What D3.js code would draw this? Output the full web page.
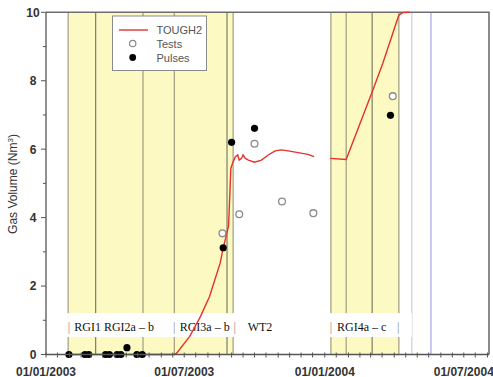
<!DOCTYPE html>
<html>
<head>
<meta charset="utf-8">
<script src="https://cdn.jsdelivr.net/npm/d3@7"></script>
<style>
	body { margin: 0; background: #fff; }
	svg { display: block; font-family: Arial, "Liberation Sans", sans-serif; }
</style>
</head>
<body>
<svg id="chart" width="493" height="377"></svg>
<script>
// TOUGH2 simulated gas volume (null = gap in the curve)
const tough2Dates = ["2003-01-30", "2003-06-18", "2003-06-21", "2003-07-08", "2003-07-22",
	"2003-08-03", "2003-08-17", "2003-08-21", "2003-08-28", "2003-08-30", "2003-08-31",
	"2003-09-03", "2003-09-06", "2003-09-09", "2003-09-11", "2003-09-14", "2003-09-16",
	"2003-09-19", "2003-09-23", "2003-10-01", "2003-10-10", "2003-10-19", "2003-10-28",
	"2003-11-05", "2003-11-14", "2003-11-27", "2003-12-10", "2003-12-18", "2003-12-28",
	"2004-01-08", "2004-01-29", "2004-03-04", "2004-03-17", "2004-04-07", "2004-04-12",
	"2004-04-21"];
const tough2Values = [0, 0, 0.04, 0.52, 1.10,
	1.69, 2.67, 3.11, 3.75, 4.86, 5.44,
	5.63, 5.78, 5.83, 5.68, 5.73, 5.83,
	5.73, 5.68, 5.62, 5.68, 5.83, 5.95,
	5.98, 5.95, 5.90, 5.85, 5.78, null,
	5.73, 5.70, 7.73, 8.51, 9.92, 9.99,
	10.0];

// measured gas volume, tests (open circles)
const testDates = ["2003-08-20", "2003-09-11", "2003-10-01", "2003-11-06", "2003-12-17", "2004-03-30"];
const testValues = [3.54, 4.10, 6.16, 4.47, 4.13, 7.55];

// measured gas volume, pulses (filled dots)
const pulseDates = ["2003-01-31", "2003-02-21", "2003-02-26", "2003-03-20", "2003-03-25",
	"2003-04-04", "2003-04-09", "2003-04-17", "2003-04-30", "2003-05-07",
	"2003-08-21", "2003-09-01", "2003-10-01", "2004-03-27"];
const pulseValues = [0, 0, 0, 0, 0,
	0, 0, 0.2, 0, 0,
	3.12, 6.2, 6.61, 6.99];

// test phases (yellow) and their boundaries
const phaseStarts = ["2003-01-30", "2004-01-09"];
const phaseEnds = ["2003-09-03", "2004-04-07"];
const phaseLines = ["2003-01-30", "2003-03-07", "2003-05-08", "2003-06-18", "2003-08-26",
	"2003-09-03", "2004-01-09", "2004-01-29", "2004-03-03", "2004-04-07"];
const darkLines = ["2003-03-07", "2003-08-26", "2004-03-03"];
const endLine = "2004-04-24";
const blueLine = "2004-05-19";

// phase labels
const phaseNames = ["RGI1 RGI2a – b", "RGI3a – b", "WT2", "RGI4a – c"];
const phaseNameDates = ["2003-02-07", "2003-06-25", "2003-09-22", "2004-01-17"];
const pipeDates = ["2003-01-31", "2003-06-18", "2003-09-05", "2004-01-09", "2004-04-06"];

// axes
const xDomain = ["2003-01-01", "2004-08-03"];
const xTickLabels = ["01/01/2003", "01/07/2003", "01/01/2004", "01/07/2004"];
const yLabelValues = [0, 2, 4, 6, 8, 10];

const parse = d3.timeParse("%Y-%m-%d");

var svg = d3.select("#chart");
var plotL = 46, plotR = 489, plotT = 12.3, plotB = 354.5;

var x = d3.scaleTime()
	.domain(xDomain.map(parse))
	.range([plotL, plotR]);

var y = d3.scaleLinear()
	.domain([0, 10])
	.range([plotB, plotT]);

var gridColor = "#9d9d80";

// yellow phases
svg.append("g")
	.selectAll("rect")
	.data(phaseStarts)
	.enter()
	.append("rect")
	.attr("x", d => x(parse(d)))
	.attr("y", plotT)
	.attr("width", (d, i) => x(parse(phaseEnds[i])) - x(parse(d)))
	.attr("height", plotB - plotT)
	.attr("fill", "#fcf9c3");

// phase boundary lines
svg.append("g")
	.selectAll("line")
	.data(phaseLines)
	.enter()
	.append("line")
	.attr("x1", d => x(parse(d)))
	.attr("x2", d => x(parse(d)))
	.attr("y1", plotT)
	.attr("y2", plotB)
	.attr("stroke", d => darkLines.includes(d) ? "#7d7d66" : gridColor)
	.attr("stroke-width", 1.2);

svg.append("line")
	.attr("x1", x(parse(endLine)))
	.attr("x2", x(parse(endLine)))
	.attr("y1", plotT)
	.attr("y2", plotB)
	.attr("stroke", "#cfcfcf")
	.attr("stroke-width", 1.2);

svg.append("line")
	.attr("x1", x(parse(blueLine)))
	.attr("x2", x(parse(blueLine)))
	.attr("y1", plotT)
	.attr("y2", plotB)
	.attr("stroke", "#8f8fe6")
	.attr("stroke-width", 1);

// white band behind phase labels
svg.append("rect")
	.attr("x", x(parse(phaseStarts[0])) - 1)
	.attr("y", y(1.21))
	.attr("width", x(parse(endLine)) - x(parse(phaseStarts[0])) + 1)
	.attr("height", y(0.51) - y(1.21))
	.attr("fill", "#fff");

var gLabels = svg.append("g")
	.attr("font-family", "'Liberation Serif', 'Times New Roman', serif")
	.attr("font-size", 12);

gLabels.selectAll(".pipe")
	.data(pipeDates)
	.enter()
	.append("text")
	.attr("class", "pipe")
	.attr("x", d => x(parse(d)))
	.attr("y", y(0.68))
	.attr("text-anchor", "middle")
	.attr("fill", "#888")
	.text("|");

gLabels.selectAll(".phaseName")
	.data(phaseNames)
	.enter()
	.append("text")
	.attr("class", "phaseName")
	.attr("x", (d, i) => x(parse(phaseNameDates[i])))
	.attr("y", y(0.68))
	.attr("fill", "#111")
	.text(d => d);

// frame (top and right)
svg.append("path")
	.attr("d", `M${plotL},${plotT}H${plotR}V${plotB}`)
	.attr("fill", "none")
	.attr("stroke", "#6e6e6e")
	.attr("stroke-width", 1.6);

// TOUGH2 curve
var line = d3.line()
	.defined((d, i) => tough2Values[i] !== null)
	.x(d => x(parse(d)))
	.y((d, i) => y(tough2Values[i]));

svg.append("path")
	.attr("d", line(tough2Dates))
	.attr("fill", "none")
	.attr("stroke", "#e4322b")
	.attr("stroke-width", 1.4);

// tests
svg.append("g")
	.selectAll("circle")
	.data(testDates)
	.enter()
	.append("circle")
	.attr("cx", d => x(parse(d)))
	.attr("cy", (d, i) => y(testValues[i]))
	.attr("r", 3.4)
	.attr("fill", "#fff")
	.attr("stroke", "#8a8a8a")
	.attr("stroke-width", 1.3);

// pulses
svg.append("g")
	.selectAll("circle")
	.data(pulseDates)
	.enter()
	.append("circle")
	.attr("cx", d => x(parse(d)))
	.attr("cy", (d, i) => y(pulseValues[i]))
	.attr("r", 3.6)
	.attr("fill", "#000");

// x axis
var xTicks = d3.timeDay.range(...xDomain.map(parse))
	.filter(d => d.getDate() === 1 || d.getDate() === 16);

svg.append("line")
	.attr("x1", plotL)
	.attr("x2", plotR)
	.attr("y1", plotB)
	.attr("y2", plotB)
	.attr("stroke", "#555")
	.attr("stroke-width", 1.3);

svg.append("g")
	.selectAll("line")
	.data(xTicks)
	.enter()
	.append("line")
	.attr("x1", d => x(d))
	.attr("x2", d => x(d))
	.attr("y1", plotB - 2)
	.attr("y2", plotB + 3)
	.attr("stroke", "#555");

svg.append("g")
	.selectAll("text")
	.data(xTickLabels)
	.enter()
	.append("text")
	.attr("x", d => x(d3.timeParse("%d/%m/%Y")(d)))
	.attr("y", 375.5)
	.attr("text-anchor", "middle")
	.attr("font-size", 12)
	.attr("font-weight", "bold")
	.attr("fill", "#333")
	.text(d => d);

// y axis
svg.append("line")
	.attr("x1", plotL)
	.attr("x2", plotL)
	.attr("y1", plotT)
	.attr("y2", plotB)
	.attr("stroke", "#555")
	.attr("stroke-width", 1.3);

svg.append("g")
	.selectAll("line")
	.data(d3.range(0, 11))
	.enter()
	.append("line")
	.attr("x1", d => d % 2 === 0 ? plotL - 5 : plotL - 3)
	.attr("x2", plotL)
	.attr("y1", d => y(d))
	.attr("y2", d => y(d))
	.attr("stroke", "#555");

svg.append("g")
	.selectAll("text")
	.data(yLabelValues)
	.enter()
	.append("text")
	.attr("x", 33)
	.attr("y", d => y(d))
	.attr("dy", "0.36em")
	.attr("text-anchor", "middle")
	.attr("font-size", 12)
	.attr("font-weight", "bold")
	.attr("fill", "#333")
	.text(d => d);

var yTitle = svg.append("text")
	.attr("transform", `translate(17,184) rotate(-90)`)
	.attr("text-anchor", "middle")
	.attr("font-size", 12)
	.attr("fill", "#333");
yTitle.append("tspan").text("Gas Volume (Nm");
yTitle.append("tspan").attr("dy", -4).attr("font-size", 8).text("3");
yTitle.append("tspan").attr("dy", 4).text(")");

// legend
var legend = svg.append("g");
legend.append("rect")
	.attr("x", 112.5)
	.attr("y", 16)
	.attr("width", 94)
	.attr("height", 54.5)
	.attr("fill", "#fff")
	.attr("stroke", "#8a8a8a");
legend.append("line")
	.attr("x1", 119)
	.attr("x2", 148)
	.attr("y1", 30)
	.attr("y2", 30)
	.attr("stroke", "#e4322b")
	.attr("stroke-width", 1.4);
legend.append("circle")
	.attr("cx", 132.7)
	.attr("cy", 43.5)
	.attr("r", 3.2)
	.attr("fill", "#fff")
	.attr("stroke", "#8a8a8a")
	.attr("stroke-width", 1.2);
legend.append("circle")
	.attr("cx", 132.7)
	.attr("cy", 57.5)
	.attr("r", 3.4)
	.attr("fill", "#000");
legend.selectAll("text")
	.data(["TOUGH2", "Tests", "Pulses"])
	.enter()
	.append("text")
	.attr("x", 156.5)
	.attr("y", (d, i) => 30 + i * 13.8)
	.attr("dy", "0.36em")
	.attr("font-size", 11)
	.attr("fill", "#555")
	.text(d => d);
</script>
</body>
</html>
